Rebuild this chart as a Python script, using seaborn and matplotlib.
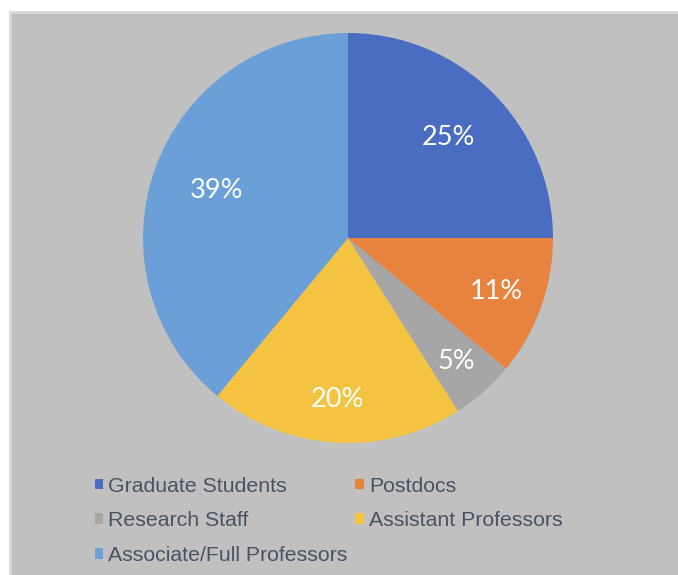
import matplotlib.pyplot as plt
import seaborn as sns
from matplotlib.patches import Patch, Rectangle

# data
groups = ['Graduate Students', 'Postdocs', 'Research Staff',
          'Assistant Professors', 'Associate/Full Professors']
shares = [25, 11, 5, 20, 39]
colors = ['#4a6dc2', '#e8823f', '#a6a6a6', '#f4c342', '#6b9fd8']
label_radius = [0.69, 0.77, 0.80, 0.79, 0.68]

sns.set_theme(style='white')
plt.rcParams['font.family'] = ['Liberation Sans', 'DejaVu Sans']
palette = sns.color_palette(colors)

fig = plt.figure(figsize=(6.78, 5.75), dpi=100)
fig.patch.set_facecolor('white')
# grey panel behind the chart
fig.patches.append(Rectangle((10 / 678, -0.02), 1, 1.02 - 12 / 575, transform=fig.transFigure,
                             facecolor='#c0c0c0', edgecolor='#d6d8dd', linewidth=2, zorder=-10))

ax = fig.add_axes([143 / 678, 1 - 443 / 575, 410 / 678, 410 / 575])
ax.set_facecolor('none')
wedges, texts, autotexts = ax.pie(shares, colors=palette, startangle=90, counterclock=False,
                                  autopct='%d%%', pctdistance=0.7,
                                  wedgeprops=dict(linewidth=0),
                                  textprops=dict(color='white', fontsize=19.5,
                                                 family=['Lato', 'DejaVu Sans']))
# push each percentage out to where it sits in the picture
for t, r in zip(autotexts, label_radius):
    x, y = t.get_position()
    t.set_position((x / 0.7 * r, y / 0.7 * r))
ax.set_aspect('equal')
ax.set_xlim(-1, 1)
ax.set_ylim(-1, 1)
ax.axis('off')

handles = [Patch(facecolor=c, edgecolor='none', label=g) for g, c in zip(groups, colors)]
order = [0, 2, 4, 1, 3]
fig.legend([handles[i] for i in order], [groups[i] for i in order],
           loc='upper left', bbox_to_anchor=(86 / 678, 1 - 468 / 575), ncol=2,
           frameon=False, fontsize=15.3, labelcolor='#4b5263',
           handlelength=0.4, handleheight=0.4, handletextpad=0.25,
           columnspacing=0.35, labelspacing=0.74, borderaxespad=0)

fig.savefig('out.png', dpi=100)
